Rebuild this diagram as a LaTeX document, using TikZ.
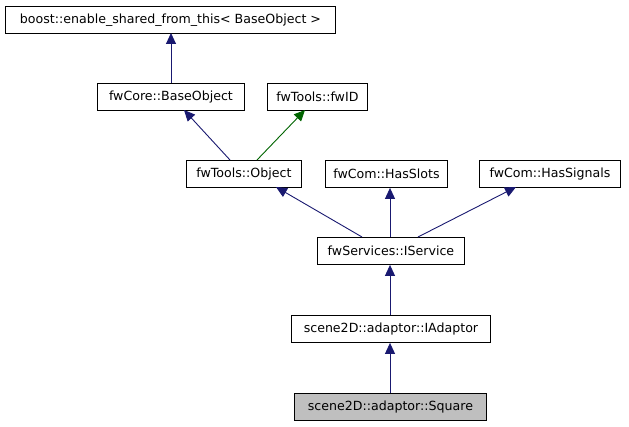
\documentclass[tikz,border=0pt]{standalone}
\usepackage{fontspec}
\setmainfont{DejaVu Sans}
\usetikzlibrary{arrows.meta}
\definecolor{navy}{HTML}{191970}
\definecolor{dgreen}{HTML}{006400}
\begin{document}
\begin{tikzpicture}[x=1pt,y=-1pt,
  cls/.style={draw=black, line width=0.9pt, fill=white, minimum height=27pt, inner sep=0pt, font=\fontsize{12.6}{14}\selectfont, anchor=north west},
  inh/.style={draw=navy, line width=0.9pt, -{Triangle[length=11pt,width=10pt]}},
  inhg/.style={draw=dgreen, line width=0.9pt, -{Triangle[length=11pt,width=10pt]}}]
\useasboundingbox (0,0) rectangle (629,427);
\node[cls, minimum width=330pt] (boost) at (5,6) {boost::enable\_shared\_from\_this< BaseObject >};
\node[cls, minimum width=147pt] (base) at (97,83) {fwCore::BaseObject};
\node[cls, minimum width=100pt] (fwid) at (267,83) {fwTools::fwID};
\node[cls, minimum width=115pt] (obj) at (186,160) {fwTools::Object};
\node[cls, minimum width=122pt] (slots) at (325,160) {fwCom::HasSlots};
\node[cls, minimum width=141pt] (sigs) at (479,160) {fwCom::HasSignals};
\node[cls, minimum width=147pt] (serv) at (317,237) {fwServices::IService};
\node[cls, minimum width=199pt] (iad) at (291,315) {scene2D::adaptor::IAdaptor};
\node[cls, minimum width=192pt, fill=black!25] (sq) at (294,393) {scene2D::adaptor::Square};
\coordinate (b1) at (171,33);
\draw[inh] (base.north -| b1) -- (b1);
\coordinate (o1) at (230,160);
\coordinate (o2) at (257,160);
\coordinate (t1) at (184,110);
\coordinate (t2) at (305,110);
\draw[inh] (o1) -- (t1);
\draw[inhg] (o2) -- (t2);
\coordinate (s1) at (362,237);
\coordinate (s3) at (418,237);
\coordinate (u1) at (276,187);
\coordinate (u3) at (516,187);
\draw[inh] (s1) -- (u1);
\draw[inh] (serv.north -| 390,0) -- (slots.south -| 390,0);
\draw[inh] (s3) -- (u3);
\draw[inh] (iad.north -| 390,0) -- (serv.south -| 390,0);
\draw[inh] (sq.north -| 390,0) -- (iad.south -| 390,0);
\end{tikzpicture}
\end{document}
